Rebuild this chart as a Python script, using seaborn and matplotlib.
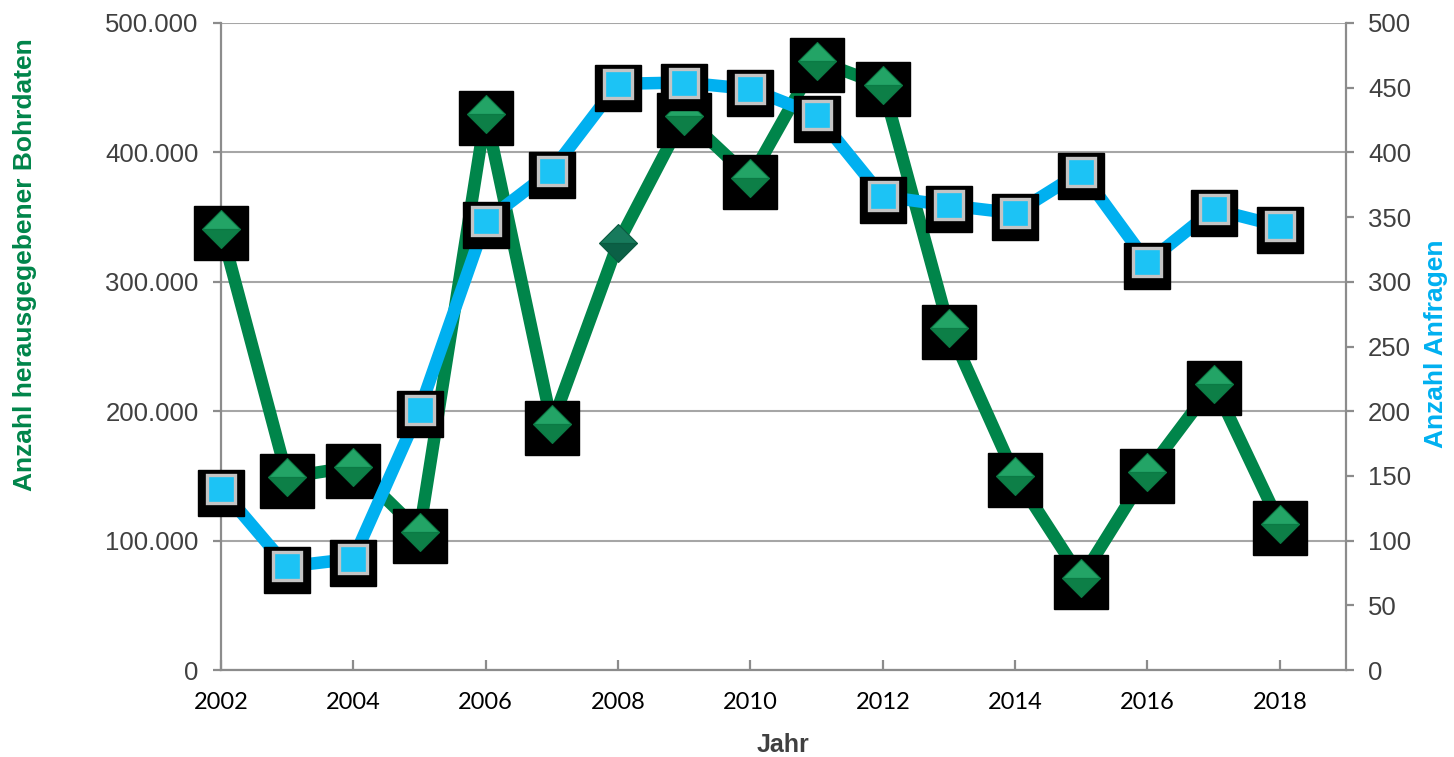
import matplotlib
matplotlib.use("Agg")
import matplotlib.pyplot as plt
from matplotlib import transforms
from matplotlib.ticker import FuncFormatter
import pandas as pd
import seaborn as sns

# Jahreswerte
jahre = list(range(2002, 2019))
bohrdaten = [341000, 149000, 157000, 107000, 430000, 190000, 330000, 428000,
             380000, 471000, 452000, 264000, 150000, 71000, 153000, 221000, 113000]
anfragen = [140, 80, 86, 201, 347, 386, 453, 454,
            449, 429, 366, 359, 353, 385, 315, 356, 343]
x_ticks = list(range(2002, 2019, 2))
links_ticks = [0, 100000, 200000, 300000, 400000, 500000]
rechts_ticks = list(range(0, 501, 50))
hervorgehoben = 2008  # einzeln markierter Punkt ohne Schatten

df = pd.DataFrame({"Jahr": jahre, "Bohrdaten": bohrdaten, "Anfragen": anfragen})

GRUEN = "#00854a"
BLAU = "#00b0f0"
GRAU = "#8c8c8c"
TEXT = "#404040"

sns.set_theme(style="white")
plt.rcParams["font.family"] = ["Liberation Sans", "DejaVu Sans"]

fig = plt.figure(figsize=(14.54, 7.57), dpi=100)
ax = fig.add_axes([221 / 1454, 1 - 670 / 757, (1346 - 221) / 1454, (670 - 23) / 757])
ax2 = ax.twinx()

shadow = transforms.offset_copy(ax.transData, fig=fig, x=0, y=-4, units="dots")
shadow2 = transforms.offset_copy(ax2.transData, fig=fig, x=0, y=-4, units="dots")

# Grüne Reihe (linke Achse)
sns.lineplot(data=df, x="Jahr", y="Bohrdaten", ax=ax, color=GRUEN, linewidth=9,
             solid_joinstyle="bevel", solid_capstyle="butt", zorder=3)
mask = df["Jahr"] != hervorgehoben
ax.plot(df["Jahr"][mask], df["Bohrdaten"][mask], ls="none", marker="s", ms=39,
        mfc="black", mec="black", transform=shadow, zorder=4, clip_on=False)
ax.plot(df["Jahr"][mask], df["Bohrdaten"][mask], ls="none", marker="D", ms=19,
        fillstyle="top", mfc="#23a466", mfcalt="#0d7f47", mec="#0b7a44", mew=0.8,
        zorder=5, clip_on=False)
hv = df[~mask]
ax.plot(hv["Jahr"], hv["Bohrdaten"], ls="none", marker="D", ms=19,
        fillstyle="top", mfc="#177a5c", mfcalt="#0b6046", mec="#0a5a40", mew=0.8,
        zorder=5, clip_on=False)

# Blaue Reihe (rechte Achse)
sns.lineplot(data=df, x="Jahr", y="Anfragen", ax=ax2, color=BLAU, linewidth=9,
             solid_joinstyle="bevel", solid_capstyle="butt", zorder=3)
ax2.plot(df["Jahr"], df["Anfragen"], ls="none", marker="s", ms=33,
         mfc="black", mec="black", transform=shadow2, zorder=4, clip_on=False)
ax2.plot(df["Jahr"], df["Anfragen"], ls="none", marker="s", ms=20,
         mfc="#1cc3f5", mec="#c4c4c4", mew=2.4, zorder=5, clip_on=False)

# Achsen
ax.set_xlim(2002, 2019)
ax.set_ylim(0, 500000)
ax2.set_ylim(0, 500)
ax.set_xticks(x_ticks)
ax.set_yticks(links_ticks)
ax2.set_yticks(rechts_ticks)
ax.yaxis.set_major_formatter(FuncFormatter(lambda v, p: f"{int(v):,}".replace(",", ".")))

ax.grid(axis="y", color="#a6a6a6", lw=1.5, zorder=0)
ax.grid(axis="x", visible=False)
ax2.grid(False)
ax.set_axisbelow(True)

for a in (ax, ax2):
    for s in a.spines.values():
        s.set_visible(False)
ax.spines["left"].set_visible(True)
ax.spines["bottom"].set_visible(True)
ax2.spines["right"].set_visible(True)
for s in (ax.spines["left"], ax.spines["bottom"], ax2.spines["right"]):
    s.set_color(GRAU)
    s.set_linewidth(1.6)
ax.spines["bottom"].set_zorder(1)

ax.tick_params(axis="y", direction="out", length=6, width=1.6, color=GRAU,
               labelsize=18.5, labelcolor=TEXT, pad=10, left=True)
ax2.tick_params(axis="y", direction="out", length=6, width=1.6, color=GRAU,
                labelsize=18.5, labelcolor=TEXT, pad=10, right=True)
ax.tick_params(axis="x", direction="in", length=7, width=1.6, color=GRAU,
               labelsize=17, labelcolor="black", pad=16, bottom=True)
for lbl in ax.get_xticklabels():
    lbl.set_fontfamily(["Lato", "DejaVu Sans"])

ax.set_xlabel("")
ax.set_ylabel("")
ax2.set_ylabel("")

fig.text(783 / 1454, 1 - 745 / 757, "Jahr", ha="center", va="center",
         fontsize=18, fontweight="bold", color=TEXT)
fig.text(25 / 1454, 1 - 265 / 757, "Anzahl herausgegebener Bohrdaten", rotation=90,
         ha="center", va="center", fontsize=19, fontweight="bold", color=GRUEN)
fig.text(1436 / 1454, 1 - 344 / 757, "Anzahl Anfragen", rotation=90,
         ha="center", va="center", fontsize=19, fontweight="bold", color=BLAU)

fig.savefig("out.png", dpi=100, facecolor="white")
